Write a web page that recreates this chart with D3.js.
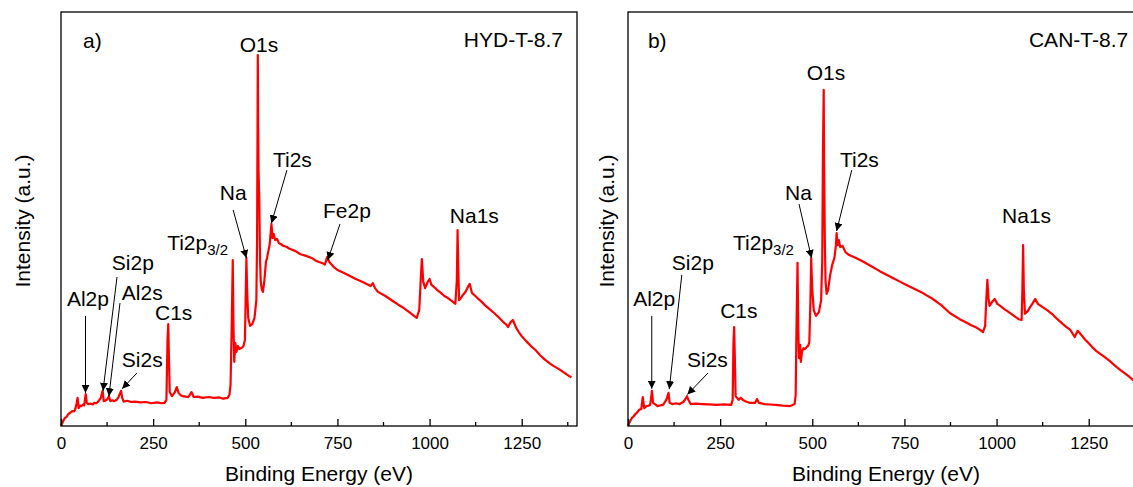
<!DOCTYPE html>
<html>
<head>
<meta charset="utf-8">
<script src="https://cdn.jsdelivr.net/npm/d3@7"></script>
<style>
  body { margin: 0; background: #fff; }
  svg { display: block; }
  text { font-family: "Liberation Sans", Arial, sans-serif; fill: #000; }
</style>
</head>
<body>
<svg id="chart" width="1133" height="487"></svg>
<script>
// XPS survey spectra: binding energy (eV) vs intensity (a.u.)
const xTicks = [0, 250, 500, 750, 1000, 1250];
const xMinorTicks = [125, 375, 625, 875, 1125, 1375];

// Sample HYD-T-8.7
const hydSpectrum = [
  [0, 0], [5, 1.0], [10, 1.9], [15, 2.2], [20, 2.9], [25, 3.2], [30, 3.6], [35, 3.5], [38, 3.9],
  [42, 5.3], [45, 6.8], [48, 4.3], [52, 4.9], [55, 4.8], [60, 5.2], [63, 5.0], [65, 6.3],
  [67, 7.7], [70, 5.6], [74, 5.3], [80, 5.4], [86, 5.2], [90, 5.6], [96, 5.5], [100, 5.8],
  [108, 6.8], [113, 8.5], [116, 6.0], [120, 6.1], [126, 6.5], [130, 7.2], [134, 6.0], [140, 6.2],
  [145, 6.0], [152, 6.4], [156, 7.0], [163, 8.5], [166, 6.8], [170, 5.9], [180, 6.1], [190, 5.8],
  [200, 5.9], [215, 5.7], [230, 5.8], [245, 5.5], [260, 5.7], [272, 5.5], [281, 5.6], [286, 6.3],
  [289, 20.8], [291, 24.6], [293, 15.9], [295, 8.2], [301, 7.2], [309, 8.2], [314, 9.4], [319, 8.0],
  [325, 7.4], [330, 7.2], [338, 7.1], [345, 7.0], [350, 7.6], [354, 8.2], [360, 7.0], [370, 7.1],
  [385, 6.8], [400, 7.0], [415, 6.8], [430, 6.9], [440, 6.6], [452, 6.8], [457, 7.5], [460, 9.9],
  [463, 23.2], [466, 40.1], [468, 24.0], [470, 15.5], [473, 20.0], [476, 17.9], [480, 19.3],
  [484, 18.6], [488, 18.8], [492, 19.0], [495, 19.3], [499, 20.8], [501, 30.4], [503, 40.6],
  [505, 32.9], [508, 26.1], [513, 24.2], [519, 24.6], [525, 26.1], [530, 30.4], [532, 44.9],
  [534, 89.6], [535, 71.5], [536, 61.4], [538, 54.6], [540, 40.1], [542, 34.8], [545, 32.9],
  [548, 32.4], [552, 35.3], [556, 39.6], [559, 40.6], [562, 42.0], [566, 43.7], [571, 48.8],
  [574, 45.4], [577, 46.4], [581, 44.9], [586, 45.2], [591, 44.2], [597, 43.9], [603, 43.5],
  [612, 43.3], [620, 42.8], [635, 42.3], [650, 41.5], [665, 41.1], [680, 40.6], [690, 40.0],
  [700, 39.6], [710, 39.3], [716, 39.0], [722, 40.8], [728, 39.6], [740, 38.4], [750, 37.7],
  [765, 37.1], [780, 36.4], [800, 35.5], [820, 34.7], [840, 33.8], [846, 34.5], [852, 33.3],
  [860, 32.4], [880, 31.4], [900, 30.2], [915, 29.3], [930, 28.5], [945, 27.5], [955, 26.8],
  [965, 26.1], [972, 28.0], [976, 35.3], [979, 40.3], [983, 34.8], [988, 33.3], [995, 34.8],
  [1000, 35.5], [1005, 34.1], [1012, 33.6], [1020, 32.9], [1030, 32.2], [1040, 31.4], [1050, 30.9],
  [1060, 30.2], [1070, 29.5], [1074, 35.3], [1076, 47.3], [1078, 37.7], [1080, 30.4], [1085, 30.9],
  [1090, 31.6], [1095, 32.1], [1100, 32.8], [1105, 33.8], [1109, 34.3], [1115, 32.1], [1122, 31.6],
  [1130, 30.9], [1140, 30.1], [1150, 29.2], [1162, 28.3], [1175, 27.3], [1188, 26.2], [1200, 25.1],
  [1207, 24.6], [1213, 23.9], [1220, 25.1], [1226, 25.6], [1235, 23.7], [1242, 22.7], [1250, 21.7],
  [1262, 20.5], [1275, 19.3], [1288, 18.3], [1300, 17.1], [1312, 16.1], [1325, 15.2], [1338, 14.4],
  [1350, 13.8], [1360, 13.2], [1370, 12.6], [1378, 12.1], [1385, 11.8]
];

// Sample CAN-T-8.7
const canSpectrum = [
  [0, 0], [5, 1.0], [10, 1.9], [15, 2.3], [20, 2.9], [25, 3.3], [30, 3.9], [36, 4.1],
  [40, 7.0], [44, 4.3], [50, 4.8], [55, 4.9], [60, 5.1], [62, 6.3], [65, 8.5], [68, 5.6],
  [74, 5.2], [80, 4.8], [88, 5.0], [95, 5.1], [104, 6.3], [110, 8.0], [113, 5.6], [120, 5.3],
  [130, 5.5], [140, 5.3], [150, 5.8], [155, 6.4], [160, 7.2], [164, 6.3], [170, 5.3], [185, 5.4],
  [200, 5.3], [220, 5.2], [240, 5.1], [260, 5.2], [280, 5.1], [284, 6.3], [286, 19.6], [288, 23.9],
  [290, 15.9], [292, 7.2], [300, 6.3], [306, 6.8], [312, 6.3], [320, 5.9], [330, 5.6], [345, 5.6],
  [350, 6.5], [355, 5.6], [370, 5.3], [385, 5.2], [400, 5.1], [420, 4.9], [440, 4.8], [452, 5.3],
  [455, 7.5], [457, 23.2], [460, 39.4], [462, 23.2], [464, 16.4], [467, 19.6], [469, 15.5],
  [472, 17.9], [476, 18.8], [480, 18.6], [485, 19.1], [489, 19.4], [492, 20.3], [495, 30.4],
  [497, 40.6], [500, 32.9], [504, 28.0], [510, 26.6], [518, 27.5], [524, 30.4], [527, 40.1],
  [529, 66.7], [531, 81.2], [532, 64.3], [534, 44.9], [536, 34.8], [539, 31.9], [543, 32.9],
  [548, 36.2], [554, 38.9], [560, 40.6], [564, 43.5], [566, 46.6], [569, 43.7], [572, 44.9],
  [576, 43.2], [582, 43.5], [590, 42.0], [600, 41.3], [620, 40.5], [640, 39.6], [660, 38.6],
  [683, 37.4], [700, 36.6], [720, 35.7], [735, 35.0], [750, 34.3], [775, 33.2], [800, 32.1],
  [825, 30.8], [850, 29.2], [873, 27.3], [900, 25.8], [915, 25.1], [930, 24.4], [945, 23.8],
  [955, 23.2], [963, 22.7], [969, 24.2], [972, 30.4], [975, 35.3], [978, 30.9], [981, 29.0],
  [988, 30.0], [995, 30.7], [1002, 29.5], [1010, 29.0], [1020, 28.3], [1030, 27.7], [1040, 27.1],
  [1050, 26.4], [1060, 25.8], [1068, 25.6], [1070, 32.9], [1072, 43.7], [1074, 32.9], [1077, 27.1],
  [1085, 27.8], [1090, 28.6], [1097, 29.5], [1105, 30.7], [1112, 29.5], [1125, 28.7], [1137, 28.0],
  [1150, 27.1], [1165, 25.8], [1180, 24.6], [1190, 23.9], [1200, 23.2], [1212, 21.5], [1220, 23.0],
  [1228, 22.2], [1240, 20.9], [1250, 20.0], [1260, 19.0], [1271, 18.1], [1285, 17.2], [1300, 16.2],
  [1312, 15.3], [1325, 14.3], [1338, 13.4], [1350, 12.6], [1360, 11.9], [1370, 11.1], [1378, 10.6],
  [1385, 10.1]
];

// Peak labels: text anchor (eV, a.u.) and optional arrow from -> to (eV, a.u.)
const hydLabels = [
  { text: "a)", at: [60, 91.3], anchor: "start" },
  { text: "HYD-T-8.7", at: [1362, 91.5], anchor: "end" },
  { text: "O1s", at: [537, 90.3], anchor: "middle" },
  { text: "Ti2s", at: [575, 62.6], anchor: "start", from: [613, 61.8], to: [571, 49.0] },
  { text: "Na", at: [431, 54.6], anchor: "start", from: [467, 52.2], to: [503, 40.6] },
  { text: "Fe2p", at: [711, 50.2], anchor: "start", from: [757, 48.8], to: [724, 40.1] },
  { text: "Na1s", at: [1055, 49.0], anchor: "start" },
  { text: "Ti2p", sub: "3/2", at: [288, 42.5], anchor: "start" },
  { text: "Si2p", at: [138, 37.7], anchor: "start", from: [152, 36.0], to: [114, 8.5] },
  { text: "Al2s", at: [165, 30.4], anchor: "start", from: [160, 29.7], to: [130, 7.2] },
  { text: "Al2p", at: [16, 29.0], anchor: "start", from: [66.5, 26.6], to: [66.5, 8.0] },
  { text: "C1s", at: [255, 25.6], anchor: "start" },
  { text: "Si2s", at: [165, 14.3], anchor: "start", from: [206, 12.8], to: [166, 9.0] }
];

const canLabels = [
  { text: "b)", at: [54, 91.3], anchor: "start" },
  { text: "CAN-T-8.7", at: [1357, 91.5], anchor: "end" },
  { text: "O1s", at: [537, 83.6], anchor: "middle" },
  { text: "Ti2s", at: [575, 62.6], anchor: "start", from: [607, 61.8], to: [566, 47.1] },
  { text: "Na", at: [426, 54.6], anchor: "start", from: [464, 53.6], to: [498, 40.6] },
  { text: "Na1s", at: [1015, 49.0], anchor: "start" },
  { text: "Ti2p", sub: "3/2", at: [285, 42.5], anchor: "start" },
  { text: "Si2p", at: [119, 37.7], anchor: "start", from: [146, 36.5], to: [112, 8.9] },
  { text: "Al2p", at: [14, 29.0], anchor: "start", from: [64.5, 26.6], to: [64.5, 9.0] },
  { text: "C1s", at: [250, 26.1], anchor: "start" },
  { text: "Si2s", at: [160, 14.3], anchor: "start", from: [217, 12.8], to: [161, 7.6] }
];

const svg = d3.select("#chart");

const defs = svg.append("defs");
defs.append("marker")
  .attr("id", "arrowhead")
  .attr("viewBox", "0 0 10 10")
  .attr("refX", 10).attr("refY", 5)
  .attr("markerWidth", 8).attr("markerHeight", 8)
  .attr("markerUnits", "userSpaceOnUse")
  .attr("orient", "auto")
  .append("path")
  .attr("d", "M0,0 L10,5 L0,10 Z")
  .attr("fill", "#000");

const panelW = 516, plotTop = 12, plotBottom = 426;

function drawPanel(x0, data, labels, yLabelX) {
  const x = d3.scaleLinear().domain([0, 1400]).range([x0, x0 + panelW]);
  const y = d3.scaleLinear().domain([0, 100]).range([plotBottom, plotTop]);
  const g = svg.append("g");

  // spectrum
  g.append("path")
    .datum(data)
    .attr("fill", "none")
    .attr("stroke", "#ff0000")
    .attr("stroke-width", 2.2)
    .attr("stroke-linejoin", "round")
    .attr("d", d3.line().x(d => x(d[0])).y(d => y(d[1])));

  // frame
  g.append("rect")
    .attr("x", x0).attr("y", plotTop)
    .attr("width", panelW).attr("height", plotBottom - plotTop)
    .attr("fill", "none").attr("stroke", "#000").attr("stroke-width", 1.3);

  // bottom axis with inward ticks
  const axis = d3.axisBottom(x).tickValues(xTicks).tickFormat(d3.format("d"))
    .tickSizeInner(-7).tickSizeOuter(0).tickPadding(11);
  const ax = g.append("g").attr("transform", `translate(0,${plotBottom})`).call(axis);
  ax.select(".domain").remove();
  ax.selectAll(".tick line").attr("stroke", "#000").attr("stroke-width", 1.3);
  ax.selectAll(".tick text")
    .attr("font-size", 17).attr("font-family", "Liberation Sans, Arial, sans-serif")
    .attr("fill", "#000");
  g.append("g").selectAll("line").data(xMinorTicks).join("line")
    .attr("x1", d => x(d)).attr("x2", d => x(d))
    .attr("y1", plotBottom).attr("y2", plotBottom - 4)
    .attr("stroke", "#000").attr("stroke-width", 1.3);

  // axis titles
  g.append("text")
    .attr("x", x0 + panelW / 2).attr("y", 481)
    .attr("text-anchor", "middle").attr("font-size", 21)
    .text("Binding Energy (eV)");
  g.append("text")
    .attr("transform", `translate(${yLabelX},221) rotate(-90)`)
    .attr("text-anchor", "middle").attr("font-size", 21)
    .text("Intensity (a.u.)");

  // peak annotations
  labels.forEach(l => {
    if (l.from) {
      g.append("line")
        .attr("x1", x(l.from[0])).attr("y1", y(l.from[1]))
        .attr("x2", x(l.to[0])).attr("y2", y(l.to[1]))
        .attr("stroke", "#000").attr("stroke-width", 1)
        .attr("marker-end", "url(#arrowhead)");
    }
    const t = g.append("text")
      .attr("x", x(l.at[0])).attr("y", y(l.at[1]))
      .attr("text-anchor", l.anchor).attr("font-size", 21)
      .text(l.text);
    if (l.sub) {
      t.append("tspan").attr("font-size", 15).attr("dy", 5).text(l.sub);
    }
  });
}

drawPanel(61, hydSpectrum, hydLabels, 30);
drawPanel(628, canSpectrum, canLabels, 614);
</script>
</body>
</html>
